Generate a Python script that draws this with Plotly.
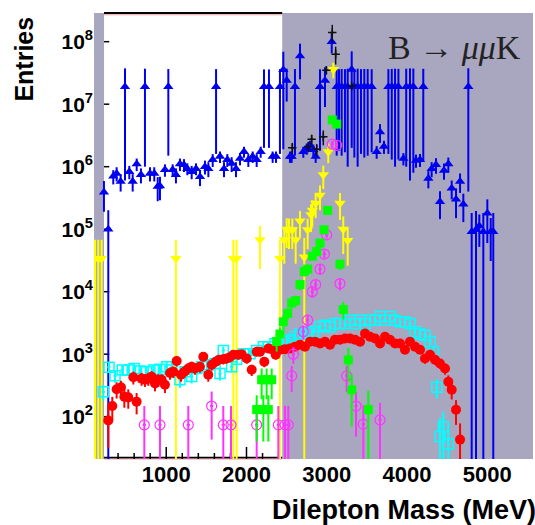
import plotly.graph_objects as go

# ---------------- data ----------------
blue_x = [224, 278, 340, 382, 432, 486, 540, 582, 632, 685, 735, 798, 851, 894, 922, 984, 1026, 1080, 1121, 1171,
          1221, 1263, 1317, 1371, 1421, 1483, 1525, 1579, 1621, 1670, 1720, 1761, 1815, 1869, 1919, 1969, 2023, 2077,
          2127, 2177, 2218, 2280, 2326, 2368, 2417, 2459, 2501, 2542, 2563, 2604, 2667, 2708, 2750, 2791, 2833, 2862,
          2916, 2978, 3062, 3124, 3153, 3186, 3227, 3261, 3311, 3344, 3385, 3427, 3468, 3510, 3560, 3622, 3664, 3713,
          3768, 3810, 3851, 3893, 3955, 3990, 4037, 4079, 4112, 4162, 4203, 4266, 4307, 4361, 4411, 4461, 4515, 4557,
          4611, 4661, 4702, 4764, 4806, 4860, 4901, 4951, 5001, 5043, 5075]
blue_y = [3.9e5, 1.0e5, 7.0e5, 7.8e5, 5.8e5, 1.9e7, 8.3e5, 5.8e5, 1.1e6, 7.4e5, 1.9e7, 7.8e5, 7.8e5, 4.8e5, 4.9e5,
          8.9e5, 1.9e7, 8.9e5, 7.4e5, 1.1e6, 1.07e6, 9.3e5, 8.3e5, 9.3e5, 6.9e5, 1.0e6, 9.3e5, 1.29e6, 1.9e7, 1.45e6,
          9.3e5, 1.29e6, 1.12e6, 9.3e5, 1.35e6, 1.74e6, 1.29e6, 1.45e6, 1.29e6, 1.74e6, 1.9e7, 1.9e7, 1.45e6, 1.45e6,
          1.9e7, 3.55e7, 2.4e7, 1.45e6, 1.45e6, 1.9e7, 5.9e7, 1.74e6, 1.95e6, 2.2e6, 1.86e6, 1.45e6, 1.9e7, 2.4e7,
          1.0e8, 1.9e7, 1.9e7, 1.9e7, 1.9e7, 1.9e7, 3.6e7, 1.9e7, 1.9e7, 1.9e7, 1.9e7, 1.9e7, 1.9e7, 1.74e6, 3.6e6,
          2.1e6, 1.9e7, 1.9e7, 1.9e7, 1.9e7, 1.35e6, 1.9e7, 1.9e7, 1.9e7, 1.26e6, 1.29e6, 1.9e7, 6.5e5, 9.3e5, 1.07e6,
          2.75e5, 8.7e5, 1.1e6, 4.5e5, 3.0e5, 5.8e5, 2.5e5, 1.9e7, 9.1e4, 9.8e4, 1.12e5, 9.1e4, 1.8e5, 9.1e4, 9.1e4]
blue_err = [2.0e5, 1.0e5, 1.8e5, 2.0e5, 1.8e5, 1.84e7, 2.0e5, 1.8e5, 2.5e5, 2.0e5, 1.8e7, 2.0e5, 2.0e5, 2.0e5, 2.0e5,
            2.0e5, 1.75e7, 2.0e5, 2.0e5, 2.5e5, 2.5e5, 2.0e5, 2.0e5, 2.0e5, 2.0e5, 2.5e5, 2.5e5, 3.0e5, 1.74e7, 3.0e5,
            2.5e5, 3.0e5, 3.0e5, 2.5e5, 3.0e5, 3.5e5, 3.0e5, 3.0e5, 3.0e5, 3.5e5, 1.7e7, 1.7e7, 3.0e5, 3.0e5,
            1.74e7, 3.36e7, 1.3e7, 3.0e5, 3.0e5, 1.75e7, 3.4e7, 3.5e5, 4.0e5, 4.0e5, 4.0e5, 3.0e5, 1.72e7, 1.5e7,
            3.5e7, 1.75e7, 1.72e7, 1.75e7, 1.73e7, 1.8e7, 3.4e7, 1.76e7, 1.8e7, 1.74e7, 1.76e7, 1.75e7, 1.73e7, 4.0e5,
            1.2e6, 5.0e5, 1.74e7, 1.77e7, 1.8e7, 1.77e7, 3.0e5, 1.8e7, 1.84e7, 1.82e7, 3.0e5, 3.0e5, 1.78e7, 2.0e5,
            2.5e5, 3.0e5, 1.3e5, 2.5e5, 3.0e5, 1.5e5, 1.5e5, 2.0e5, 1.2e5, 1.86e7, 9.1e4, 9.8e4, 6.0e4, 9.1e4, 1.2e5,
            6.0e4, 9.1e4]

black_x = [2571, 2770, 2812, 2875, 2957, 2995, 3069, 3111, 3311]
black_y = [2.0e6, 2.1e6, 2.75e6, 1.9e6, 3.0e6, 3.5e7, 1.4e8, 6.3e7, 1.95e7]
black_err = [4e5, 4e5, 5e5, 4e5, 8e5, 5e6, 4.6e7, 2.0e7, 2e6]

yellow_x = [112, 153, 195, 1121, 1836, 1877, 2168, 2417, 2471, 2501, 2530, 2571, 2613, 2667, 2720, 2762, 2804,
            2820, 2862, 2916, 2957, 3019, 3082, 3165, 3206, 3261]
yellow_y = [3.4e4, 3.4e4, 3.4e4, 3.4e4, 3.4e4, 3.4e4, 6.8e4, 3.4e4, 6.8e4, 1.0e5, 9.8e4, 9.8e4, 6.8e4, 1.35e5, 3.6e4,
            9.8e4, 1.7e5, 2.0e5, 2.6e5, 3.5e5, 7.4e5, 1.74e6, 3.6e7, 2.6e5, 1.0e5, 6.6e4]
yellow_err = [3.4e4, 3.4e4, 3.4e4, 3.4e4, 3.4e4, 3.4e4, 4.5e4, 3.4e4, 4.0e4, 5.0e4, 5.0e4, 5.0e4, 4.0e4, 6.0e4, 3.6e4,
              5.0e4, 8.0e4, 9.0e4, 1.1e5, 1.5e5, 3.0e5, 6.0e5, 1.0e7, 1.2e5, 6.0e4, 4.0e4]

green_x = [2127, 2189, 2210, 2251, 2272, 2314, 2376, 2417, 2459, 2513, 2563, 2613, 2667, 2720, 2762, 2820, 2875,
           2916, 2966, 3012, 3069, 3124, 3165, 3206, 3269, 3311, 3518]
green_y = [130, 390, 130, 390, 130, 390, 1600, 2100, 3300, 4500, 6600, 7200, 1.3e4, 2.1e4, 2.3e4, 3.7e4, 4.4e4,
           6.0e4, 9.8e4, 2.0e5, 5.6e6, 4.8e6, 2.75e4, 5.2e3, 810, 270, 130]
green_err = [90, 200, 90, 200, 90, 200, 500, 600, 800, 1000, 1300, 1400, 2500, 3500, 4000, 6000, 7000,
             9000, 1.4e4, 3.0e4, 6.0e5, 5.0e5, 5.0e3, 1.6e3, 450, 200, 130]

magenta_x = [727, 922, 1275, 1566, 1711, 1807, 2127, 2397, 2480, 2521, 2563, 2584, 2708, 2762, 2820, 2862, 2916,
             2970, 2999, 3069, 3124, 3165, 3248, 3365, 3456, 3664]
magenta_y = [74, 74, 74, 148, 74, 74, 74, 74, 74, 74, 450, 1000, 2300, 3500, 1.0e4, 1.3e4, 2.3e4,
             4.0e4, 8.1e4, 2.3e6, 2.2e6, 1.35e4, 450, 148, 76, 89]
magenta_err = [74, 74, 74, 105, 74, 74, 74, 74, 74, 74, 200, 300, 600, 800, 2000, 2500, 4000,
               6000, 1.0e4, 3.0e5, 3.0e5, 3000, 200, 100, 76, 77]

cyan_x = [216, 287, 362, 452, 527, 600, 680, 756, 839, 922, 1006, 1068, 1171, 1234, 1317, 1380, 1442, 1524, 1608,
          1670, 1711, 1815, 1878, 1961, 2044, 2127, 2210, 2272, 2355, 2438, 2521, 2604, 2667, 2750, 2833, 2916, 2978,
          3041, 3103, 3165, 3228, 3290, 3352, 3415, 3477, 3539, 3602, 3664, 3726, 3788, 3851, 3913, 3975, 4037, 4100,
          4162, 4224, 4287, 4330, 4372, 4411, 4453, 4515]
cyan_y = [250, 620, 450, 560, 560, 590, 540, 525, 560, 575, 630, 560, 390, 525, 440, 590, 630, 680, 710,
          490, 1150, 630, 830, 1020, 1020, 1150, 1320, 1320, 1480, 1580, 1700, 1900, 2100, 2300, 2300, 2750, 2900,
          2750, 3100, 3100, 3100, 3500, 3100, 3500, 3100, 3500, 3500, 4000, 3500, 4000, 3500, 3300, 3300, 3100, 2300,
          2100, 2000, 1600, 1100, 295, 48, 69, 37]
cyan_err = [70, 120, 100, 110, 110, 110, 110, 110, 110, 110, 120, 110, 100, 110, 100, 120, 120, 130, 130,
            110, 180, 120, 150, 170, 170, 180, 200, 200, 210, 220, 230, 250, 260, 280, 280, 300, 310,
            300, 330, 330, 330, 350, 330, 350, 330, 350, 350, 380, 350, 380, 350, 340, 340, 330, 280,
            260, 250, 230, 190, 100, 48, 50, 37]

red_x = [278, 328, 382, 436, 478, 527, 590, 631, 693, 735, 776, 818, 860, 901, 943, 984, 1047, 1088, 1130, 1184,
         1225, 1275, 1317, 1358, 1420, 1462, 1524, 1566, 1616, 1657, 1711, 1753, 1794, 1836, 1898, 1940, 2003, 2065,
         2127, 2168, 2222, 2272, 2314, 2364, 2418, 2480, 2542, 2604, 2667, 2729, 2791, 2854, 2916, 2978, 3041, 3103,
         3165, 3228, 3290, 3352, 3415, 3477, 3539, 3602, 3664, 3726, 3788, 3851, 3913, 3975, 4037, 4100, 4162, 4224,
         4287, 4349, 4411, 4474, 4515, 4557, 4611, 4661]
red_y = [87, 148, 275, 295, 209, 204, 427, 174, 407, 389, 407, 437, 339, 389, 389, 324, 501, 525, 776, 468,
         525, 589, 631, 589, 631, 912, 468, 676, 759, 813, 832, 851, 891, 977, 977, 1000, 851, 562,
         1096, 1096, 759, 1230, 1202, 977, 1175, 1202, 1230, 1318, 1413, 1318, 1585, 1585, 1479, 1585, 1413, 1698,
         1698, 1778, 1778, 1698, 1585, 2138, 1905, 1778, 1479, 1905, 1698, 1479, 1479, 1175, 1585, 1318, 1175, 851,
         977, 813, 708, 589, 363, 269, 129, 43]
red_err = [55, 60, 80, 80, 70, 70, 100, 65, 95, 90, 95, 100, 85, 90, 90, 85, 110, 110, 140, 105,
           110, 120, 125, 120, 125, 150, 105, 130, 140, 140, 145, 145, 150, 155, 155, 160, 145, 115,
           165, 165, 140, 175, 175, 155, 170, 175, 175, 180, 190, 180, 200, 200, 190, 200, 190, 210,
           210, 215, 215, 210, 200, 230, 220, 215, 190, 220, 210, 190, 190, 170, 200, 180, 170, 145,
           155, 140, 130, 120, 95, 80, 55, 35]

x_ticks = [1000, 2000, 3000, 4000, 5000]
y_decades = [2, 3, 4, 5, 6, 7, 8]

# ---------------- layout constants ----------------
X_RANGE = [100, 5570]
Y_LOG_RANGE = [1.323, 8.459]
WHITE_BAND = [225, 2445]
SHADE = '#a9a6bf'
FONT = 'Liberation Sans'


def series(x, y, err, symbol, color, size, name, line_w=0.0, line_color=None, bar_w=2):
    return go.Scatter(
        x=x, y=y, mode='markers', name=name,
        marker=dict(symbol=symbol, size=size, color=color,
                    line=dict(width=line_w, color=line_color or color)),
        error_y=dict(type='data', array=err, visible=True, thickness=bar_w, width=0, color=color),
        error_x=dict(type='constant', value=20, visible=True, thickness=bar_w, width=0, color=color),
        showlegend=False,
    )


fig = go.Figure()
fig.add_trace(series(blue_x, blue_y, blue_err, 'triangle-up', '#0000f0', 9, 'blue'))
fig.add_trace(series(yellow_x, yellow_y, yellow_err, 'triangle-down', '#ffff00', 10, 'yellow'))
fig.add_trace(series(cyan_x, cyan_y, cyan_err, 'square-open', '#00ffff', 10, 'cyan', line_w=1.5))
fig.add_trace(series(red_x, red_y, red_err, 'circle', '#ff0000', 10, 'red'))
fig.add_trace(series(magenta_x, magenta_y, magenta_err, 'circle-open', '#ff33ff', 10, 'magenta', line_w=1.2))
fig.add_trace(series(green_x, green_y, green_err, 'square', '#00ff00', 9, 'green'))
fig.add_trace(series(black_x, black_y, black_err, 'cross-thin', '#111111', 6, 'black', line_w=1.5, bar_w=1.5))


def ypaper(logv):
    return (logv - Y_LOG_RANGE[0]) / (Y_LOG_RANGE[1] - Y_LOG_RANGE[0])


shapes = [
    dict(type='rect', xref='x', yref='paper', x0=WHITE_BAND[0], x1=WHITE_BAND[1], y0=0, y1=1,
         fillcolor='white', line=dict(width=0), layer='below'),
    dict(type='line', xref='x', yref='paper', x0=WHITE_BAND[0], x1=WHITE_BAND[1], y0=1, y1=1,
         line=dict(color='black', width=2), layer='below'),
    dict(type='line', xref='x', yref='paper', x0=WHITE_BAND[0], x1=WHITE_BAND[1], y0=0.996, y1=0.996,
         line=dict(color='#e8a0a0', width=1), layer='below'),
    dict(type='line', xref='x', yref='paper', x0=WHITE_BAND[0], x1=WHITE_BAND[1], y0=0.003, y1=0.003,
         line=dict(color='black', width=2), layer='below'),
    dict(type='line', xref='x', yref='paper', x0=WHITE_BAND[0], x1=WHITE_BAND[1], y0=0.0, y1=0.0,
         line=dict(color='#e8a0a0', width=1), layer='below'),
]
# tick marks visible only in the white band
for v in range(400, 2401, 200):
    h = 0.027 if v % 1000 == 0 else 0.0135
    shapes.append(dict(type='line', xref='x', yref='paper', x0=v, x1=v, y0=0, y1=h,
                       line=dict(color='black', width=1.5), layer='below'))
for k in y_decades:
    shapes.append(dict(type='line', xref='x', yref='paper', x0=WHITE_BAND[0], x1=WHITE_BAND[0] + 65,
                       y0=ypaper(k), y1=ypaper(k), line=dict(color='black', width=1.5), layer='below'))

fig.update_layout(
    width=535, height=525,
    margin=dict(l=94, r=2, t=13, b=66),
    paper_bgcolor='white', plot_bgcolor=SHADE,
    shapes=shapes,
    xaxis=dict(range=X_RANGE, showgrid=False, zeroline=False, showline=False, ticks='',
               tickvals=x_ticks, ticktext=[str(v) for v in x_ticks],
               tickfont=dict(family=FONT, size=22, color='black', weight='bold')),
    yaxis=dict(type='log', range=Y_LOG_RANGE, showgrid=False, zeroline=False, showline=False, ticks='',
               tickvals=[10 ** k for k in y_decades],
               ticktext=['10<sup>%d</sup>' % k for k in y_decades],
               tickfont=dict(family=FONT, size=21, color='black', weight='bold')),
    annotations=[
        dict(text='Dilepton Mass (MeV)', xref='paper', yref='paper', x=1.0, y=-0.115, xshift=5,
             xanchor='right', yanchor='middle', showarrow=False,
             font=dict(family=FONT, size=27, color='black', weight='bold')),
        dict(text='Entries', xref='paper', yref='paper', x=-0.16, y=0.997, textangle=-90,
             xanchor='center', yanchor='top', showarrow=False,
             font=dict(family=FONT, size=25, color='black', weight='bold')),
        dict(text='B \u2192 <i>\u03bc\u03bc</i>K', xref='paper', yref='paper', x=0.977, y=ypaper(7.9),
             xanchor='right', yanchor='middle', showarrow=False,
             font=dict(family='Liberation Serif', size=34, color='#222222')),
    ],
)

fig.write_html('out.html')
